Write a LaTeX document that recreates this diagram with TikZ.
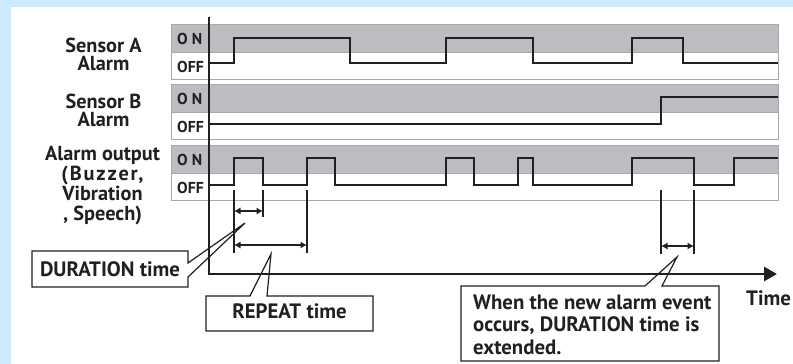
\documentclass[tikz,border=0pt]{standalone}
\usepackage{fontspec}
\setmainfont{PT Sans}
\usetikzlibrary{arrows.meta}
\definecolor{bgblue}{HTML}{CDEBFD}
\definecolor{panelgray}{HTML}{BCBDC1}
\definecolor{edgegray}{HTML}{A7A9AC}
\definecolor{ink}{HTML}{231F20}
\begin{document}
\begin{tikzpicture}[x=1pt,y=-1pt,
  every node/.style={inner sep=0pt,text=ink},
  lbl/.style={align=center,anchor=north,font=\bfseries\fontsize{20.3}{18.5}\selectfont},
  onoff/.style={anchor=base west,font=\bfseries\fontsize{15.8}{15}\selectfont},
  ctext/.style={font=\bfseries\fontsize{20.8}{22.5}\selectfont},
  sig/.style={draw=ink,line width=2.3pt,line join=miter},
  tickline/.style={draw=ink,line width=1.4pt},
  dim/.style={draw=ink,line width=1.5pt,{Latex[length=6.5pt,width=7pt]}-{Latex[length=6.5pt,width=7pt]}},
  callout/.style={draw=ink,line width=1.2pt,line join=miter},
  axis/.style={draw=ink,line width=2.8pt,line join=miter,-{Triangle[length=13pt,width=14pt]}}]
\useasboundingbox (0,0) rectangle (793,364);
\fill[bgblue] (0,0) rectangle (793,364);
\fill[white] (11,7) rectangle (793,364);
% panels
\foreach \t in {24,84.3,145}{
  \fill[panelgray] (171,\t) rectangle (778,{\t+28.5});
  \draw[edgegray,line width=0.8pt] (171,{\t+28.5}) -- (778,{\t+28.5});
  \draw[edgegray,line width=1pt] (171,\t) rectangle (778,{\t+55});
}
% ON / OFF labels
\node[onoff] (onA) at (177,44) {O\hspace{4pt}N};
\node[onoff] (offA) at (177,72.5) {OFF};
\node[onoff] (onB) at (177,104.3) {O\hspace{4pt}N};
\node[onoff] (offB) at (177,132.8) {OFF};
\node[onoff] (onC) at (177,165) {O\hspace{4pt}N};
\node[onoff] (offC) at (177,193.5) {OFF};
% left labels
\node[lbl] (sa) at (103.5,37.5) {Sensor A\\Alarm};
\node[lbl] (sb) at (103.5,93.5) {Sensor B\\Alarm};
\node[lbl,font=\bfseries\fontsize{20.3}{20}\selectfont] (ao) at (102.5,145.5)
  {Alarm output\\{\addfontfeature{LetterSpace=9}(Buzzer,}\\Vibration\\, Speech)};
% callouts
\draw[callout] (32,251) -- (188,251) -- (188,263) -- (245,223) -- (188,277) -- (188,287) -- (32,287) -- cycle;
\draw[callout] (206,296) -- (250,296) -- (271,254) -- (267,296) -- (373,296) -- (373,331) -- (206,331) -- cycle;
\draw[callout] (461,286) -- (645,286) -- (677,257) -- (662,286) -- (719,286) -- (719,361) -- (461,361) -- cycle;
\node[ctext,anchor=base] (dur) at (110,276) {DURATION time};
\node[ctext,anchor=base] (rep) at (289.5,318) {REPEAT time};
\node[ctext,anchor=north west,align=left] (ext) at (473,294.5)
  {When the new alarm event\\occurs, DURATION time is\\extended.};
\node[ctext,anchor=base west] (time) at (746,305) {Time};
% signals
\draw[sig] (209,63) -- (234,63) -- (234,38) -- (350,38) -- (350,63) -- (446,63) -- (446,38)
  -- (533,38) -- (533,63) -- (632,63) -- (632,38) -- (683,38) -- (683,63) -- (778,63);
\draw[sig] (209,124) -- (661,124) -- (661,97) -- (778,97);
\draw[sig] (209,185) -- (234,185) -- (234,158) -- (263,158) -- (263,185) -- (307,185) -- (307,158)
  -- (335,158) -- (335,185) -- (446,185) -- (446,158) -- (474,158) -- (474,185) -- (518,185)
  -- (518,158) -- (533,158) -- (533,185) -- (632,185) -- (632,158) -- (694,158) -- (694,185)
  -- (734,185) -- (734,158) -- (778,158);
% ticks and dimensions
\coordinate (t1a) at (234,190); \coordinate (t1b) at (234,253);
\coordinate (t2a) at (263,190); \coordinate (t2b) at (263,217);
\coordinate (t3a) at (307,190); \coordinate (t3b) at (307,253);
\coordinate (t4a) at (661,190); \coordinate (t4b) at (661,254);
\coordinate (t5a) at (694,190); \coordinate (t5b) at (694,254);
\draw[tickline] (t1a) -- (t1b);
\draw[tickline] (t2a) -- (t2b);
\draw[tickline] (t3a) -- (t3b);
\draw[tickline] (t4a) -- (t4b);
\draw[tickline] (t5a) -- (t5b);
\draw[dim] (234,211) -- (263,211);
\draw[dim] (234,245) -- (307,245);
\draw[dim] (661,246) -- (694,246);
% axes
\coordinate (axtop) at (209,17);
\coordinate (origin) at (209,274);
\coordinate (axend) at (777,274);
\draw[axis] (axtop) -- (origin) -- (axend);
\end{tikzpicture}
\end{document}
